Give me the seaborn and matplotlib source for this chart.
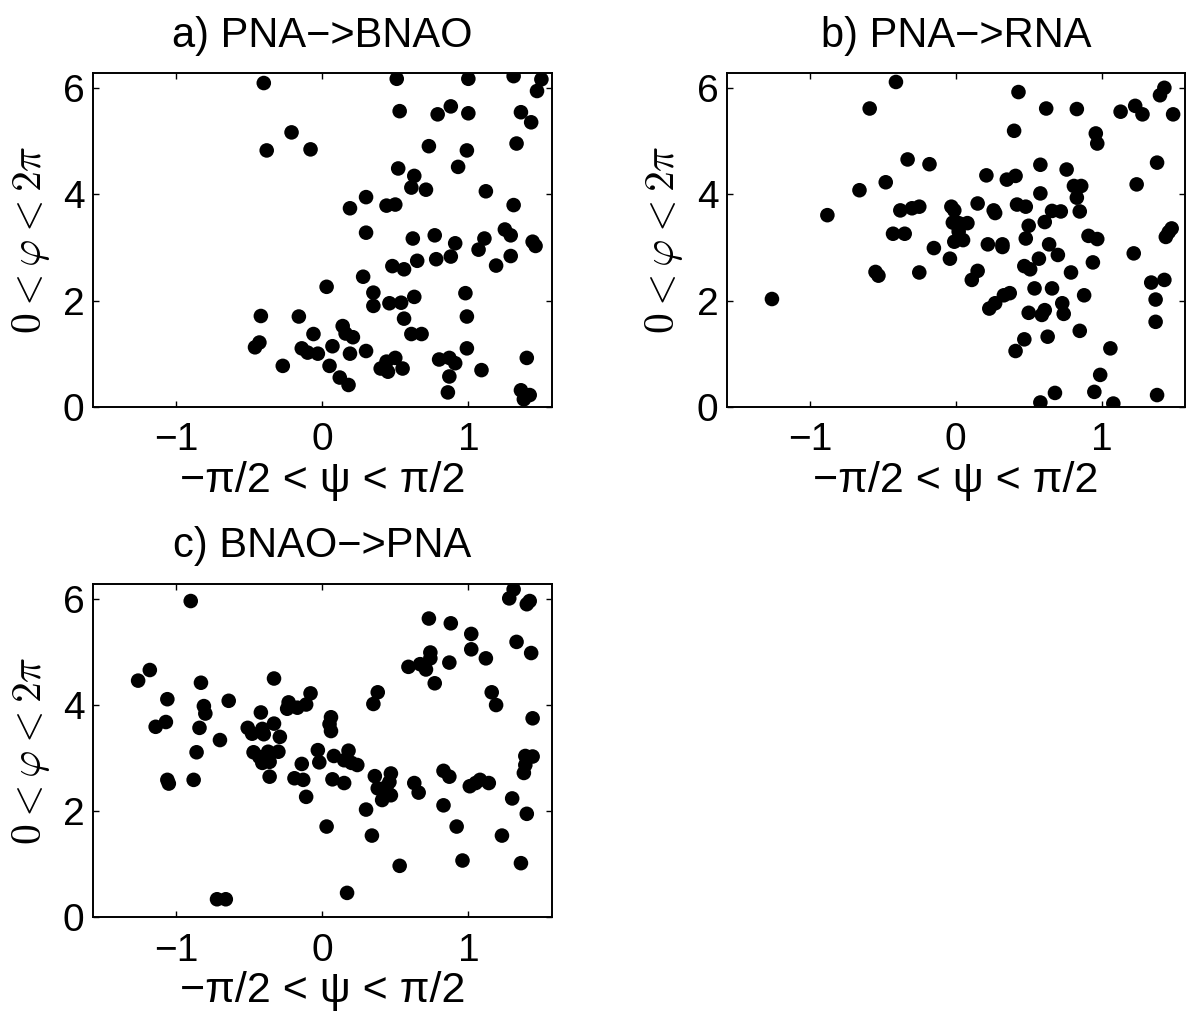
import numpy as np
import pandas as pd
import matplotlib.pyplot as plt
import seaborn as sns

sns.set_style("ticks")
plt.rcParams["font.family"] = ["Liberation Sans", "DejaVu Sans"]
plt.rcParams["mathtext.fontset"] = "cm"
plt.rcParams["text.color"] = "black"
plt.rcParams["axes.labelcolor"] = "black"

# data
psi_a = [-0.40, -0.21, -0.38, -0.08, -0.42, -0.16, -0.06, -0.43, -0.46, -0.14, -0.10, -0.27, -0.03,
         0.03, 0.07, 0.05, 0.12, 0.18, 0.14, 0.16, 0.21, 0.19, 0.30, 0.28, 0.35, 0.35, 0.46, 0.54, 0.63,
         0.56, 0.61, 0.68, 0.40, 0.45, 0.50, 0.44, 0.55, 0.19, 0.30, 0.30, 0.44, 0.50, 0.48, 0.56, 0.65,
         0.62, 0.77, 0.78, 0.88, 0.91, 0.52, 0.63, 0.61, 0.71, 0.73, 0.93, 0.99, 0.51, 0.53, 0.79, 0.88,
         1.00, 1.00, 1.31, 1.50, 1.47, 1.36, 1.43, 1.33, 1.12, 1.31, 1.11, 1.07, 1.25, 1.29, 1.44, 1.46,
         1.19, 1.29, 0.98, 0.99, 0.99, 0.80, 0.87, 0.91, 0.87, 0.86, 1.09, 1.40, 1.36, 1.42, 1.38]
phi_a = [6.10, 5.17, 4.83, 4.85, 1.71, 1.70, 1.37, 1.21, 1.12, 1.10, 1.02, 0.77, 1.00,
         2.26, 1.14, 0.77, 0.55, 0.41, 1.52, 1.38, 1.31, 1.00, 1.05, 2.45, 2.15, 1.90, 1.95, 1.96, 2.07,
         1.66, 1.37, 1.37, 0.72, 0.66, 0.92, 0.85, 0.72, 3.74, 3.95, 3.28, 3.79, 3.81, 2.65, 2.59, 2.75,
         3.17, 3.23, 2.78, 2.83, 3.08, 4.49, 4.35, 4.13, 4.09, 4.91, 4.52, 4.83, 6.18, 5.57, 5.51, 5.66,
         5.53, 6.18, 6.23, 6.17, 5.95, 5.55, 5.36, 4.96, 4.06, 3.80, 3.17, 2.96, 3.34, 3.23, 3.11, 3.03,
         2.66, 2.84, 2.14, 1.70, 1.10, 0.89, 0.92, 0.82, 0.57, 0.27, 0.69, 0.92, 0.31, 0.22, 0.14]

psi_b = [-1.26, -0.88, -0.66, -0.59, -0.41, -0.48, -0.33, -0.18, -0.38, -0.30, -0.25, -0.43, -0.35,
         -0.15, -0.55, -0.53, -0.25,
         -0.04, -0.03, -0.01, -0.02, 0.02, 0.08, -0.01, 0.05, 0.02, 0.15, 0.21, 0.26, 0.27, 0.22, 0.32,
         0.32, 0.11, 0.15, 0.33, 0.37, 0.23, 0.27, 0.35, 0.41, 0.40, 0.43, 0.42, 0.48, 0.58, 0.58, 0.61,
         0.50, 0.48, 0.66, 0.72, 0.76, 0.81, 0.86, 0.83, 0.85, 0.64, 0.70, 0.57, 0.47, 0.51, 0.79, 0.91,
         0.97, 0.94, 0.54, 0.66, 0.73, 0.74, 0.88, 0.50, 0.59, 0.61, 0.47, 0.41, 0.63, 0.85, 1.06, 0.99,
         0.95, 0.68, 0.58, 1.08, 1.38, 1.37, 1.37, 1.34, 1.43, 1.22, 1.44, 1.48, 1.46, 1.24, 1.38, 0.96,
         0.97, 0.62, 0.83, 1.13, 1.23, 1.28, 1.49, 1.40, 1.43]
phi_b = [2.03, 3.61, 4.08, 5.62, 6.12, 4.23, 4.66, 4.57, 3.70, 3.74, 3.77, 3.26, 3.26,
         2.99, 2.54, 2.47, 2.53,
         2.79, 3.77, 3.70, 3.47, 3.46, 3.46, 3.11, 3.14, 3.30, 3.83, 4.36, 3.70, 3.65, 3.06, 3.06,
         3.01, 2.39, 2.56, 2.10, 2.14, 1.85, 1.95, 4.28, 4.35, 5.20, 5.93, 3.81, 3.77, 4.56, 4.02, 3.48,
         3.41, 3.17, 3.69, 3.68, 4.47, 4.16, 4.16, 3.94, 3.68, 3.06, 2.86, 2.79, 2.65, 2.59, 2.53, 3.22,
         3.16, 2.72, 2.23, 2.23, 1.95, 1.75, 2.10, 1.77, 1.73, 1.82, 1.27, 1.05, 1.32, 1.43, 1.10, 0.60,
         0.28, 0.26, 0.08, 0.06, 0.22, 1.60, 2.02, 2.34, 2.39, 2.89, 3.20, 3.36, 3.29, 4.19, 4.60, 5.15,
         4.96, 5.62, 5.61, 5.56, 5.67, 5.51, 5.51, 5.87, 6.01]

psi_c = [-0.90, -1.26, -1.18, -1.06, -1.14, -1.07, -1.06, -1.05, -0.83, -0.81, -0.80, -0.84, -0.86,
         -0.88, -0.70, -0.64, -0.72, -0.66, -0.33, -0.42, -0.51, -0.48, -0.41, -0.40, -0.33, -0.29,
         -0.47, -0.43, -0.41, -0.37, -0.36, -0.30, -0.36, -0.19, -0.14, -0.13, -0.11, -0.23, -0.24,
         -0.17, -0.11, -0.08, -0.03,
         -0.02, 0.03, 0.06, 0.05, 0.06, 0.08, 0.07, 0.15, 0.18, 0.15, 0.20, 0.24, 0.17, 0.30, 0.34,
         0.36, 0.38, 0.35, 0.38, 0.41, 0.44, 0.47, 0.46, 0.47, 0.53, 0.63, 0.66, 0.59, 0.67, 0.71, 0.74,
         0.74, 0.77, 0.73, 0.88, 0.87, 0.83, 0.87, 0.83, 0.92, 0.96, 1.02, 1.02, 1.12, 1.16, 1.19, 1.01,
         1.08, 1.14, 1.05, 1.23, 1.30, 1.36, 1.40, 1.31, 1.28, 1.40, 1.42, 1.33, 1.43, 1.44, 1.39, 1.44,
         1.39, 1.38]
phi_c = [5.96, 4.46, 4.66, 4.11, 3.59, 3.68, 2.59, 2.52, 4.42, 3.98, 3.84, 3.57, 3.11,
         2.59, 3.34, 4.08, 0.34, 0.34, 4.50, 3.86, 3.57, 3.46, 3.55, 3.45, 3.65, 3.40,
         3.11, 3.02, 2.91, 3.12, 2.93, 3.12, 2.65, 2.62, 2.89, 2.59, 2.27, 4.05, 3.93,
         3.95, 4.01, 4.22, 3.15,
         2.92, 1.71, 3.77, 3.64, 3.51, 3.04, 2.60, 2.53, 3.14, 2.96, 2.91, 2.87, 0.46, 2.03, 1.54,
         2.66, 4.24, 4.02, 2.43, 2.21, 2.46, 2.71, 2.55, 2.30, 0.97, 2.53, 2.35, 4.72, 4.77, 4.67, 4.99,
         4.88, 4.41, 5.63, 5.54, 4.80, 2.76, 2.65, 2.11, 1.71, 1.07, 5.34, 5.05, 4.88, 4.24, 4.00, 2.47,
         2.59, 2.53, 2.53, 1.54, 2.24, 1.02, 1.95, 6.18, 6.01, 5.90, 5.96, 5.19, 4.98, 3.75, 3.04, 3.03,
         2.87, 2.72]

titles = ["a) PNA\u2212>BNAO", "b) PNA\u2212>RNA", "c) BNAO\u2212>PNA"]
x_ticks = [-1, 0, 1]
y_ticks = [0, 2, 4, 6]

panels = [(psi_a, phi_a), (psi_b, phi_b), (psi_c, phi_c)]
# axes boxes [left, bottom, width, height] in figure fractions
boxes = [[0.0772, 0.6028, 0.3822, 0.3256],
         [0.6050, 0.6028, 0.3816, 0.3256],
         [0.0772, 0.1042, 0.3822, 0.3256]]

fig = plt.figure(figsize=(12.01, 10.24), dpi=100)

for (psi, phi), title, box in zip(panels, titles, boxes):
    ax = fig.add_axes(box)
    df = pd.DataFrame({"psi": psi, "phi": phi})
    sns.scatterplot(data=df, x="psi", y="phi", ax=ax, color="black",
                    s=110, edgecolor="none", linewidth=0)
    ax.set_xlim(-np.pi / 2, np.pi / 2)
    ax.set_ylim(0, 2 * np.pi)
    ax.set_xticks(x_ticks)
    ax.set_xticklabels(["\u22121", "0", "1"])
    ax.set_yticks(y_ticks)
    ax.tick_params(direction="in", top=True, right=True, length=4, width=1,
                   labelsize=28, colors="black")
    ax.tick_params(axis="x", pad=11)
    ax.tick_params(axis="y", pad=6)
    for sp in ax.spines.values():
        sp.set_linewidth(1.4)
        sp.set_color("black")
    ax.set_title(title, fontsize=30, pad=19)
    ax.set_xlabel("\u2212\u03c0/2 < \u03c8 < \u03c0/2", fontsize=31, labelpad=2)
    ax.set_ylabel(r"$0 < \varphi < 2\pi$", fontsize=30, labelpad=8)

plt.savefig("out.png", dpi=100)
